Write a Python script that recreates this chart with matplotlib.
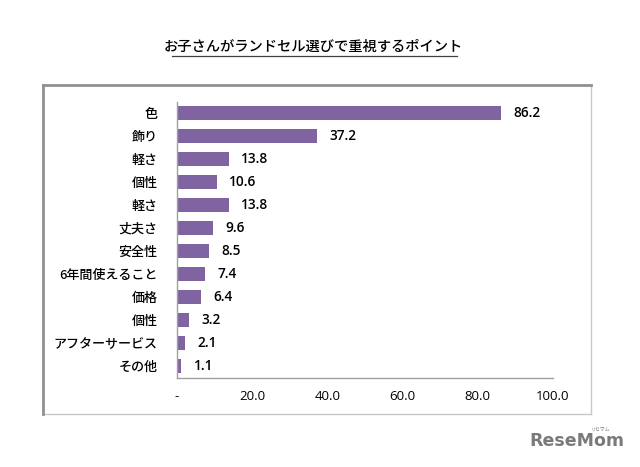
import matplotlib
matplotlib.use("Agg")
import matplotlib.pyplot as plt
from matplotlib.lines import Line2D

plt.rcParams['font.family'] = ['Noto Sans CJK JP', 'DejaVu Sans']

title = "お子さんがランドセル選びで重視するポイント"
categories = ["色", "飾り", "軽さ", "個性", "軽さ", "丈夫さ", "安全性",
              "6年間使えること", "価格", "個性", "アフターサービス", "その他"]
values = [86.2, 37.2, 13.8, 10.6, 13.8, 9.6, 8.5, 7.4, 6.4, 3.2, 2.1, 1.1]
xticks = [0, 20, 40, 60, 80, 100]
xticklabels = ["-", "20.0", "40.0", "60.0", "80.0", "100.0"]

W, H = 640, 467
fig = plt.figure(figsize=(W / 100, H / 100), dpi=100)

# outer frame
fx0, fx1 = 43 / W, 591 / W
fy0, fy1 = 1 - 414 / H, 1 - 85 / H
fig.add_artist(Line2D([fx0, fx1], [fy0, fy0], color="#c8c8c8", lw=1.0, transform=fig.transFigure))
fig.add_artist(Line2D([fx1, fx1], [fy0, fy1], color="#c8c8c8", lw=1.0, transform=fig.transFigure))
fig.add_artist(Line2D([fx0, fx1], [fy1, fy1], color="#909090", lw=2.0, transform=fig.transFigure))
fig.add_artist(Line2D([fx0, fx0], [fy0, fy1], color="#909090", lw=2.0, transform=fig.transFigure))

ax = fig.add_axes([177 / W, 1 - 377.5 / H, (553 - 177) / W, (377.5 - 101.5) / H])
y = list(range(len(categories)))
bars = ax.barh(y, values, height=0.57, color="#8064a2")
ax.set_ylim(len(categories) - 0.5, -0.5)
ax.set_xlim(0, 100)
ax.set_yticks(y)
ax.set_yticklabels(categories, fontsize=9.4, fontweight="medium")
ax.set_xticks(xticks)
ax.set_xticklabels(xticklabels, fontsize=9.5, family=["Open Sans", "DejaVu Sans"])
ax.tick_params(axis="y", length=0, pad=14)
ax.tick_params(axis="x", length=0, pad=9)
for s in ["top", "right"]:
    ax.spines[s].set_visible(False)
ax.spines["left"].set_color("#a0a0a0")
ax.spines["bottom"].set_color("#a0a0a0")
ax.spines["left"].set_linewidth(1.0)
ax.spines["bottom"].set_linewidth(1.0)

for yi, v in zip(y, values):
    ax.annotate(f"{v:.1f}", (v, yi), xytext=(9, 0), textcoords="offset points",
                va="center", ha="left", fontsize=9.8, fontweight="semibold",
                family=["Open Sans", "DejaVu Sans"])

# title with underline
t = fig.text(313 / W, 1 - 47 / H, title, ha="center", va="center", fontsize=10.3,
             fontweight="medium")
fig.add_artist(Line2D([172 / W, 457 / W], [1 - 55.5 / H, 1 - 55.5 / H],
                      color="#404040", lw=0.9, transform=fig.transFigure))

# logo
fig.text(577 / W, 1 - 441 / H, "ReseMom", ha="center", va="center",
         fontsize=12.5, fontweight="bold", color="#7a7a7a",
         family=["DejaVu Sans"])
fig.text(601 / W, 1 - 429 / H, "リセマム", ha="center", va="center",
         fontsize=3.5, color="#7a7a7a")

fig.savefig("out.png", dpi=100)
